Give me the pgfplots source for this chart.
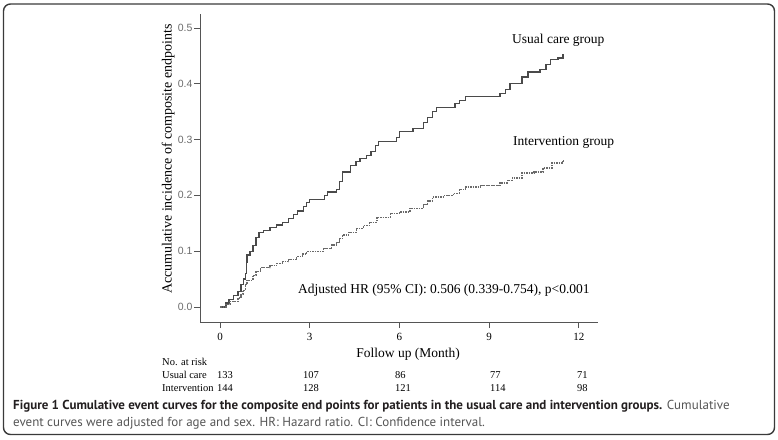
\documentclass[border=0pt]{standalone}
\usepackage{fontspec}
\setmainfont{Liberation Serif}
\setsansfont{Liberation Sans}
\newfontfamily\capfont{PT Sans}
\usepackage{pgfplots}
\pgfplotsset{compat=1.18}
\usepackage{pgfplotstable}

\definecolor{curvegray}{HTML}{4A4A4A}
\definecolor{dashgray}{HTML}{6A6A6A}
\definecolor{framegray}{HTML}{3A3A3A}
\definecolor{axisgray}{HTML}{555555}
\definecolor{captext}{HTML}{231F20}
\definecolor{capgray}{HTML}{555555}

% usual care group: month, cumulative incidence (steps)
\pgfplotstableread{
m v
0 0
0.2 0.007
0.3 0.013
0.45 0.02
0.6 0.027
0.7 0.04
0.78 0.05
0.84 0.06
0.88 0.08
0.9 0.093
1.0 0.10
1.1 0.11
1.2 0.125
1.3 0.133
1.45 0.137
1.67 0.142
1.9 0.147
2.1 0.152
2.3 0.158
2.45 0.165
2.6 0.172
2.78 0.18
2.9 0.187
3.0 0.193
3.5 0.2
3.6 0.206
3.9 0.21
4.0 0.225
4.1 0.242
4.35 0.254
4.55 0.26
4.68 0.266
4.9 0.272
5.05 0.279
5.2 0.29
5.3 0.296
5.9 0.303
6.0 0.314
6.45 0.32
6.8 0.33
6.95 0.34
7.1 0.35
7.25 0.357
7.86 0.364
8.0 0.37
8.2 0.377
9.36 0.383
9.55 0.39
9.7 0.401
10.1 0.412
10.3 0.421
10.7 0.425
10.9 0.435
11.04 0.443
11.3 0.446
11.47 0.452
11.5 0.452
}\usualcare

% intervention group
\pgfplotstableread{
m v
0 0
0.2 0.005
0.33 0.01
0.6 0.016
0.7 0.022
0.77 0.03
0.85 0.04
0.9 0.048
1.1 0.057
1.2 0.063
1.34 0.07
1.67 0.074
1.9 0.078
2.1 0.081
2.3 0.085
2.57 0.09
2.75 0.095
2.9 0.099
3.45 0.105
3.74 0.111
3.9 0.115
4.0 0.122
4.1 0.129
4.3 0.134
4.57 0.141
4.8 0.146
5.0 0.152
5.25 0.161
5.7 0.168
6.0 0.17
6.35 0.177
6.8 0.183
6.95 0.19
7.1 0.197
7.5 0.2
7.8 0.204
8.0 0.21
8.2 0.215
8.7 0.218
9.36 0.222
9.6 0.227
9.77 0.231
10.1 0.24
10.5 0.242
10.8 0.249
11.1 0.258
11.47 0.263
11.5 0.263
}\intervention

\begin{document}
\begin{tikzpicture}
\useasboundingbox (0pt,0pt) rectangle (778pt,439pt);
\draw[framegray, line width=1.4pt, rounded corners=7pt] (3.5pt,4.5pt) rectangle (774.5pt,435pt);

\begin{axis}[
    at={(200pt,117pt)}, anchor=south west,
    scale only axis, width=398pt, height=308pt,
    xmin=-0.67, xmax=12.64, ymin=-0.027, ymax=0.525,
    axis x line*=bottom, axis y line*=left,
    axis line style={axisgray, line width=0.8pt},
    every tick/.style={axisgray, line width=0.8pt},
    tick align=outside,
    xtick={0,3,6,9,12}, ytick={0,0.1,0.2,0.3,0.4,0.5},
    major tick length=6pt,
    xticklabel style={font=\fontsize{11}{11}\selectfont, yshift=-2pt},
    yticklabel style={font=\fontsize{10.5}{10.5}\sffamily, text=gray!85!black, xshift=2pt},
    /pgf/number format/assume math mode=true,
    yticklabel={\pgfmathprintnumber[fixed, fixed zerofill, precision=1]{\tick}},
    xlabel={Follow up (Month)},
    xlabel style={font=\fontsize{13.5}{13.5}\selectfont, at={(axis description cs:0.523,0)}, anchor=center, yshift=-32pt},
    ylabel={Accumulative incidence of composite endpoints},
    ylabel style={font=\fontsize{14}{14}\selectfont, at={(axis description cs:-0.080,0.529)}, anchor=center},
    clip=false,
]
\addplot[const plot, curvegray, line width=1.2pt] table[x=m, y=v] {\usualcare};
\addplot[const plot, dashgray, line width=1.2pt, dash pattern=on 1.6pt off 0.9pt] table[x=m, y=v] {\intervention};
\end{axis}

% annotations (pixel positions, y measured from bottom)
\node[anchor=base west, font=\fontsize{13.5}{13.5}\selectfont, inner sep=0] at (512pt,395pt) {Usual care group};
\node[anchor=base west, font=\fontsize{13.5}{13.5}\selectfont, inner sep=0] at (513pt,293pt) {Intervention group};
\node[anchor=base west, font=\fontsize{13.5}{13.5}\selectfont, inner sep=0] at (298pt,145pt) {Adjusted HR (95\% CI): 0.506 (0.339-0.754), p<0.001};

% numbers at risk
\begin{scope}[every node/.style={anchor=base west, font=\fontsize{10.5}{10.5}\selectfont, inner sep=0}]
\node at (162pt,74pt) {No. at risk};
\node at (162pt,61pt) {Usual care};
\node at (162pt,48pt) {Intervention};
\node at (217pt,61pt) {133}; \node at (303pt,61pt) {107}; \node at (395pt,61pt) {86};
\node at (490pt,61pt) {77}; \node at (577pt,61pt) {71};
\node at (217pt,48pt) {144}; \node at (303pt,48pt) {128}; \node at (395pt,48pt) {121};
\node at (490pt,48pt) {114}; \node at (577pt,48pt) {98};
\end{scope}

% caption
\node[anchor=base west, inner sep=0, font=\capfont\fontsize{13}{13}\selectfont] at (13pt,30pt)
  {\textcolor{captext}{\bfseries Figure 1 Cumulative event curves for the composite end points for patients in the usual care and intervention groups.} \textcolor{capgray}{Cumulative}};
\node[anchor=base west, inner sep=0, font=\capfont\fontsize{13}{13}\selectfont, text=capgray] at (13pt,13pt)
  {event curves were adjusted for age and sex. HR: Hazard ratio. CI: Confidence interval.};
\end{tikzpicture}
\end{document}
